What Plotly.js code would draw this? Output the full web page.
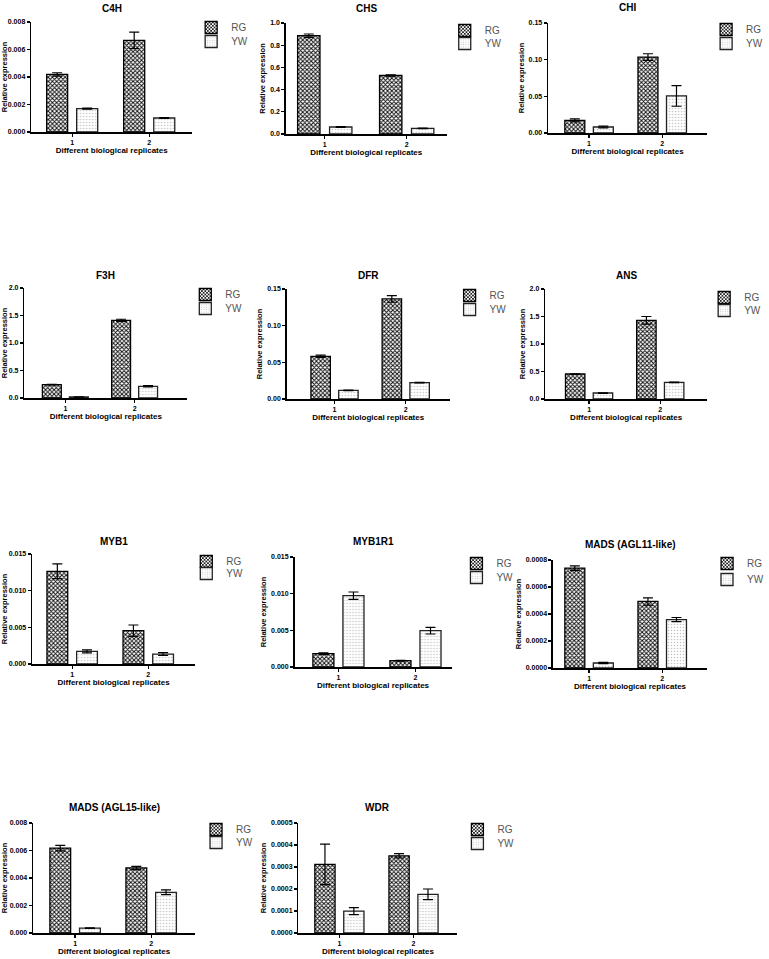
<!DOCTYPE html>
<html><head><meta charset="utf-8">
<script src="https://cdn.plot.ly/plotly-3.0.1.min.js"></script>
<style>html,body{margin:0;padding:0;background:#fff}#chart{width:769px;height:959px}</style>
</head><body><div id="chart"></div>
<script>
// ---- data ----
const replicates = ["1", "2"];
const seriesNames = ["RG", "YW"];
const genes = ["C4H", "CHS", "CHI", "F3H", "DFR", "ANS", "MYB1", "MYB1R1", "MADS (AGL11-like)", "MADS (AGL15-like)", "WDR"];

const C4H_RG = [0.00419, 0.00667];   const C4H_RG_err = [0.00012, 0.0006];
const C4H_YW = [0.0017, 0.00102];    const C4H_YW_err = [0.00004, 0.00003];

const CHS_RG = [0.886, 0.527];       const CHS_RG_err = [0.015, 0.006];
const CHS_YW = [0.063, 0.051];       const CHS_YW_err = [0.003, 0.003];

const CHI_RG = [0.0173, 0.1036];     const CHI_RG_err = [0.002, 0.0045];
const CHI_YW = [0.0082, 0.0505];     const CHI_YW_err = [0.0012, 0.014];

const F3H_RG = [0.242, 1.412];       const F3H_RG_err = [0.005, 0.02];
const F3H_YW = [0.018, 0.212];       const F3H_YW_err = [0.003, 0.012];

const DFR_RG = [0.0582, 0.1364];     const DFR_RG_err = [0.0015, 0.0045];
const DFR_YW = [0.0118, 0.0223];     const DFR_YW_err = [0.0004, 0.0005];

const ANS_RG = [0.4545, 1.43];       const ANS_RG_err = [0.005, 0.07];
const ANS_YW = [0.109, 0.303];       const ANS_YW_err = [0.005, 0.005];

const MYB1_RG = [0.01264, 0.00455];  const MYB1_RG_err = [0.001, 0.00077];
const MYB1_YW = [0.00173, 0.00136];  const MYB1_YW_err = [0.0002, 0.0002];

const MYB1R1_RG = [0.00182, 0.00086]; const MYB1R1_RG_err = [0.0001, 0.00005];
const MYB1R1_YW = [0.00973, 0.00495]; const MYB1R1_YW_err = [0.0005, 0.00045];

const AGL11_RG = [0.00074, 0.000493];  const AGL11_RG_err = [0.000017, 0.000027];
const AGL11_YW = [0.000037, 0.000359]; const AGL11_YW_err = [0.000004, 0.000015];

const AGL15_RG = [0.00618, 0.00473];  const AGL15_RG_err = [0.0002, 0.00012];
const AGL15_YW = [0.00036, 0.00296];  const AGL15_YW_err = [0.00002, 0.00017];

const WDR_RG = [0.000312, 0.000351];  const WDR_RG_err = [0.000092, 0.00001];
const WDR_YW = [0.0000994, 0.000176]; const WDR_YW_err = [0.000016, 0.000024];

const rgSeries = [C4H_RG, CHS_RG, CHI_RG, F3H_RG, DFR_RG, ANS_RG, MYB1_RG, MYB1R1_RG, AGL11_RG, AGL15_RG, WDR_RG];
const rgErrors = [C4H_RG_err, CHS_RG_err, CHI_RG_err, F3H_RG_err, DFR_RG_err, ANS_RG_err, MYB1_RG_err, MYB1R1_RG_err, AGL11_RG_err, AGL15_RG_err, WDR_RG_err];
const ywSeries = [C4H_YW, CHS_YW, CHI_YW, F3H_YW, DFR_YW, ANS_YW, MYB1_YW, MYB1R1_YW, AGL11_YW, AGL15_YW, WDR_YW];
const ywErrors = [C4H_YW_err, CHS_YW_err, CHI_YW_err, F3H_YW_err, DFR_YW_err, ANS_YW_err, MYB1_YW_err, MYB1R1_YW_err, AGL11_YW_err, AGL15_YW_err, WDR_YW_err];

// y-axis scale per panel: max, dtick, tickformat
const yMax   = [0.008, 1.0, 0.15, 2.0, 0.15, 2.0, 0.015, 0.015, 0.0008, 0.008, 0.0005];
const yDtick = [0.002, 0.2, 0.05, 0.5, 0.05, 0.5, 0.005, 0.005, 0.0002, 0.002, 0.0001];
const yFmt   = [".3f", ".1f", ".2f", ".1f", ".2f", ".1f", ".3f", ".3f", ".4f", ".3f", ".4f"];

// ---- layout (pixel boxes) ----
const W = 769, H = 959;
// L, R, T, B of plot area; t1, t2 tick pixel positions; title y;
// legend swatch centre x (sx) and row centres (r1, r2)
const boxes = [
  {L:32,  R:197, T:22,  B:132, t1:74,  t2:153, ty:9,   sx:212, r1:27,  r2:41},
  {L:293, R:458, T:23,  B:134, t1:333, t2:417, ty:9,   sx:472, r1:30,  r2:43},
  {L:562, R:725, T:23,  B:133, t1:604, t2:679, ty:8,   sx:740, r1:29,  r2:43},
  {L:25,  R:192, T:288, B:398, t1:67,  t2:138, ty:275, sx:206, r1:294, r2:308},
  {L:294, R:461, T:289, B:399, t1:343, t2:416, ty:275, sx:477, r1:295, r2:309},
  {L:559, R:725, T:289, B:399, t1:604, t2:677, ty:275, sx:738, r1:297, r2:310},
  {L:33,  R:200, T:554, B:664, t1:74,  t2:152, ty:541, sx:207, r1:561, r2:573},
  {L:302, R:463, T:557, B:667, t1:347, t2:426, ty:541, sx:484, r1:563, r2:577},
  {L:567, R:725, T:560, B:668, t1:604, t2:679, ty:544, sx:741, r1:563, r2:579},
  {L:34,  R:200, T:823, B:933, t1:77,  t2:155, ty:807, sx:217, r1:829, r2:842},
  {L:306, R:469, T:823, B:933, t1:348, t2:424, ty:807, sx:485, r1:829, r2:843}
];

const FONT = "Liberation Sans, Arial, sans-serif";
const traces = [];
const layout = {
  width: W, height: H,
  margin: {l:0, r:0, t:0, b:0},
  paper_bgcolor: "#fff", plot_bgcolor: "#fff",
  barmode: "group", bargap: 0.22, bargroupgap: 0.3,
  font: {family: FONT, color: "#000"},
  annotations: [],
  showlegend: true
};

function legendBox(name, sx, cy) {
  layout[name] = {
    x: (sx - 16) / W, y: 1 - (cy - 14) / H, xanchor: "left", yanchor: "top",
    bgcolor: "rgba(0,0,0,0)", font: {family: FONT, size: 10, color: "#555"},
    itemwidth: 30, tracegroupgap: 0
  };
}

genes.forEach((g, i) => {
  const n = i + 1;
  const b = boxes[i];
  const xa = n === 1 ? "x" : "x" + n;
  const ya = n === 1 ? "y" : "y" + n;
  const lgA = (2 * i + 1) === 1 ? "legend" : "legend" + (2 * i + 1);
  const lgB = "legend" + (2 * i + 2);
  const unit = b.t2 - b.t1;

  traces.push({
    type: "bar", x: replicates, y: rgSeries[i], name: seriesNames[0],
    xaxis: xa, yaxis: ya, legend: lgA,
    marker: {color: "#ffffff", line: {color: "#000", width: 1.3},
      pattern: {shape: "x", fgcolor: "#111", bgcolor: "#fff", size: 3, solidity: 0.55}},
    error_y: {type: "data", array: rgErrors[i], visible: true, color: "#000", thickness: 1.2, width: 5},
    hoverinfo: "skip"
  });
  traces.push({
    type: "bar", x: replicates, y: ywSeries[i], name: seriesNames[1],
    xaxis: xa, yaxis: ya, legend: lgB,
    marker: {color: "#ffffff", line: {color: "#222", width: 1.3},
      pattern: {shape: ".", fgcolor: "#c4c4c4", bgcolor: "#fff", size: 3, solidity: 0.2}},
    error_y: {type: "data", array: ywErrors[i], visible: true, color: "#000", thickness: 1.2, width: 5},
    hoverinfo: "skip"
  });

  layout["xaxis" + (n === 1 ? "" : n)] = {
    domain: [b.L / W, b.R / W], anchor: ya, type: "category",
    range: [-(b.t1 - b.L) / unit, 1 + (b.R - b.t2) / unit],
    showline: true, linecolor: "#000", linewidth: 1.5,
    ticks: "outside", ticklen: 3, tickwidth: 1.2, tickcolor: "#000",
    tickfont: {family: FONT, size: 7, weight: "bold", color: "#000"},
    showgrid: false, zeroline: false, fixedrange: true,
    title: {text: "Different biological replicates", standoff: 2,
      font: {family: FONT, size: 8, weight: "bold", color: "#000"}}
  };
  layout["yaxis" + (n === 1 ? "" : n)] = {
    domain: [1 - b.B / H, 1 - b.T / H], anchor: xa,
    range: [0, yMax[i]], dtick: yDtick[i], tick0: 0, tickformat: yFmt[i],
    showline: true, linecolor: "#000", linewidth: 1.5,
    ticks: "outside", ticklen: 3, tickwidth: 1.2, tickcolor: "#000",
    tickfont: {family: FONT, size: 7, weight: "bold", color: "#000"},
    showgrid: false, zeroline: false, fixedrange: true,
    title: {text: "Relative expression", standoff: 3,
      font: {family: FONT, size: 7.5, weight: "bold", color: "#000"}}
  };
  legendBox(lgA, b.sx, b.r1);
  legendBox(lgB, b.sx, b.r2);
  layout.annotations.push({
    xref: "paper", yref: "paper", x: (b.L + b.R) / 2 / W, y: 1 - b.ty / H,
    xanchor: "center", yanchor: "middle", showarrow: false,
    text: g, font: {family: FONT, size: 10, weight: "bold", color: "#000"}
  });
});

Plotly.newPlot("chart", traces, layout, {staticPlot: true, displayModeBar: false});
</script>
</body></html>
